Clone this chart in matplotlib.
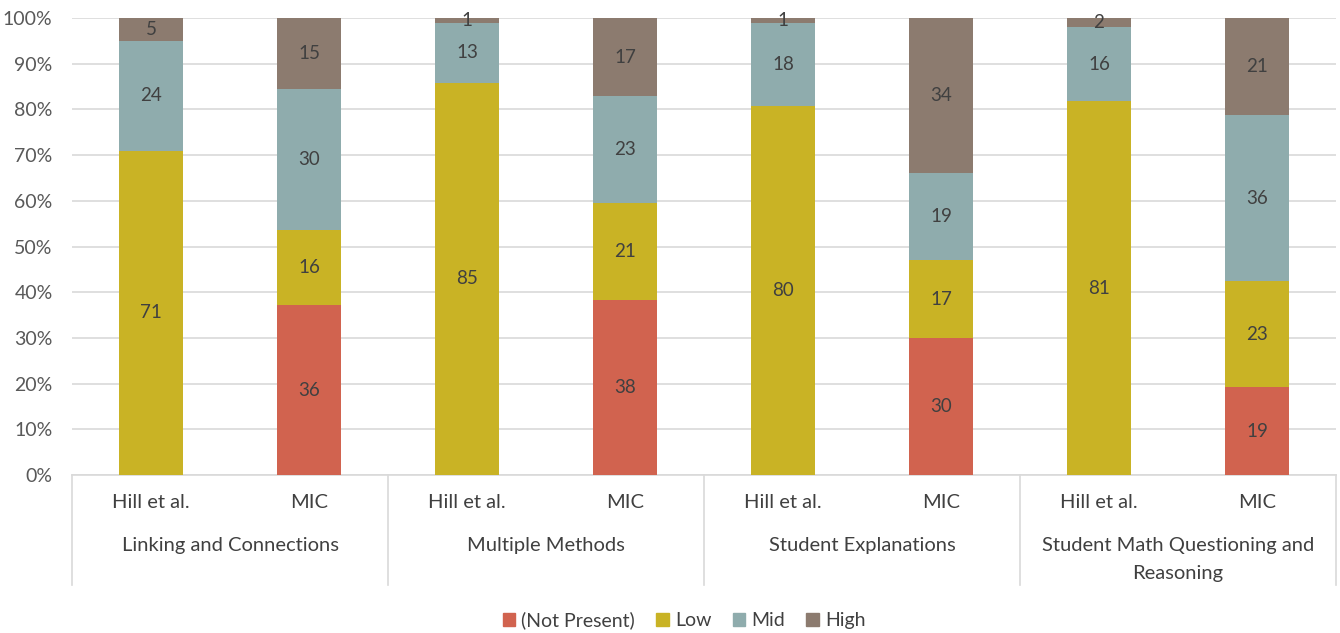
import numpy as np
import matplotlib.pyplot as plt
import matplotlib.transforms as mtransforms

plt.rcParams['font.family'] = ['Lato', 'DejaVu Sans']

groups = ["Linking and Connections", "Multiple Methods", "Student Explanations",
          "Student Math Questioning and\nReasoning"]
sources = ["Hill et al.", "MIC"]

# raw counts per bar (Hill, MIC for each group in order)
not_present = [0, 36, 0, 38, 0, 30, 0, 19]
low = [71, 16, 85, 21, 80, 17, 81, 23]
mid = [24, 30, 13, 23, 18, 19, 16, 36]
high = [5, 15, 1, 17, 1, 34, 2, 21]

series = ["(Not Present)", "Low", "Mid", "High"]
colors = ["#D1634F", "#C9B325", "#8FACAD", "#8C7B6F"]

data = np.array([not_present, low, mid, high], dtype=float)
totals = data.sum(axis=0)
pct = data / totals * 100

fig = plt.figure(figsize=(13.4, 6.33), dpi=100)
ax = fig.add_axes([72 / 1340, 1 - 475 / 633, 1264 / 1340, 457 / 633])

x = np.arange(len(not_present))
bottom = np.zeros(len(x))
for i in range(4):
    bars = ax.bar(x, pct[i], 0.4, bottom=bottom, color=colors[i], label=series[i], zorder=3)
    labs = [str(int(v)) if v > 0 else "" for v in data[i]]
    ax.bar_label(bars, labels=labs, label_type='center', fontsize=13.5, color="#404040", zorder=4)
    bottom += pct[i]

ax.set_xlim(-0.5, 7.5)
ax.set_ylim(0, 100)
ax.set_yticks(np.arange(0, 101, 10))
ax.set_yticklabels([f"{v}%" for v in range(0, 101, 10)], fontsize=14, color="#595959")
ax.grid(axis='y', color="#D9D9D9", linewidth=1.2, zorder=0)
ax.tick_params(axis='y', length=0, pad=14)
ax.tick_params(axis='x', length=0)
for s in ax.spines.values():
    s.set_visible(False)
ax.set_xticks([])

trans = mtransforms.blended_transform_factory(ax.transData, ax.transAxes)
px = 1 / 457
ax.plot([-0.5, 7.5], [0, 0], color="#D9D9D9", lw=1.2, transform=trans, clip_on=False, zorder=2)
for xs in [-0.5, 1.5, 3.5, 5.5, 7.5]:
    ax.plot([xs, xs], [0, -110 * px], color="#D9D9D9", lw=1.2, transform=trans, clip_on=False)

for i, xi in enumerate(x):
    ax.text(xi, -27 * px, sources[i % 2], transform=trans, ha='center', va='center',
            fontsize=14.5, color="#404040")
for g, name in enumerate(groups):
    for k, line in enumerate(name.split("\n")):
        ax.text(2 * g + 0.5, (-71 - 27 * k) * px, line, transform=trans, ha='center', va='center',
                fontsize=14.5, color="#404040")

handles = [plt.Rectangle((0, 0), 1, 1, color=c) for c in colors]
fig.legend(handles, series, loc='center', bbox_to_anchor=(684 / 1340, 1 - 620 / 633), ncol=4,
           frameon=False, fontsize=14, handlelength=0.65, handleheight=0.65, handletextpad=0.3,
           columnspacing=1.1, labelcolor="#404040")

fig.savefig("out.png", dpi=100)
